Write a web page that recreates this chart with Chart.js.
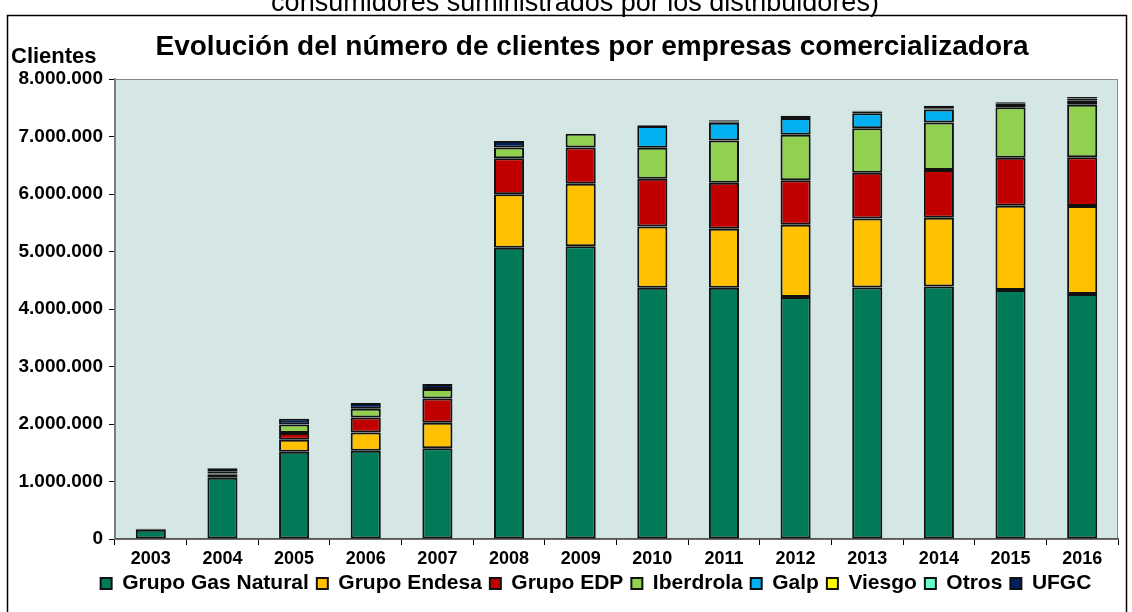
<!DOCTYPE html>
<html>
<head>
<meta charset="utf-8">
<script src="https://cdn.jsdelivr.net/npm/chart.js@4.4.0/dist/chart.umd.min.js"></script>
<style>
html, body { margin: 0; padding: 0; background: #fff; }
#wrap { width: 1132px; height: 612px; }
</style>
</head>
<body>
<div id="wrap"><canvas id="chart" width="1132" height="612"></canvas></div>
<script>
const years = ['2003', '2004', '2005', '2006', '2007', '2008', '2009', '2010', '2011', '2012', '2013', '2014', '2015', '2016'];

// numero de clientes por grupo
const gasNatural = [160000, 1066000, 1518000, 1536000, 1577000, 5066000, 5090000, 4370000, 4370000, 4210000, 4374000, 4391000, 4330000, 4261000];
const endesa     = [null, 60000, 207000, 316000, 444000, 931000, 1087000, 1065000, 1027000, 1257000, 1200000, 1197000, 1465000, 1530000];
const edp        = [null, 15000, 118000, 261000, 422000, 626000, 632000, 829000, 800000, 772000, 795000, 829000, 835000, 847000];
const iberdrola  = [null, 30000, 147000, 151000, 166000, 186000, 240000, 539000, 733000, 793000, 775000, 826000, 878000, 915000];
const galp       = [null, null, null, null, null, null, null, 380000, 310000, 290000, 259000, 227000, null, null];
const viesgo     = [null, null, null, null, null, null, null, null, 20000, 40000, 30000, 20000, 60000, 70000];
const otros      = [null, null, null, null, null, null, null, null, null, null, null, null, null, 40000];
const ufgc       = [20000, 60000, 102000, 101000, 87000, 113000, null, 12000, 24000, null, 16000, 46000, 27000, 24000];

const yMax = 8000000;
const yStep = 1000000;

const FONT = 'Arial, "Liberation Sans", sans-serif';
const topNote = 'consumidores suministrados por los distribuidores)';
const chartTitle = 'Evolución del número de clientes por empresas comercializadora';

function fmt(v) {
    return String(v).replace(/\B(?=(\d{3})+(?!\d))/g, '.');
}

function serie(label, data, color) {
    return {
        label: label,
        data: data,
        backgroundColor: color,
        borderColor: '#111',
        borderWidth: 2,
        borderSkipped: false,
        categoryPercentage: 1,
        barPercentage: 0.42
    };
}

const decor = {
    id: 'decor',
    afterLayout(chart) {
        // la leyenda del original va algo desplazada a la derecha
        chart.legend.left += 33;
        chart.legend.right += 33;
    },
    beforeDraw(chart) {
        const ctx = chart.ctx;
        const a = chart.chartArea;
        ctx.save();
        ctx.fillStyle = '#fff';
        ctx.fillRect(0, 0, chart.width, chart.height);
        // marco exterior
        ctx.strokeStyle = '#000';
        ctx.lineWidth = 1.5;
        ctx.strokeRect(7.5, 15.5, 1119, 640);
        // texto cortado arriba
        ctx.fillStyle = '#000';
        ctx.font = '27px ' + FONT;
        ctx.textAlign = 'center';
        ctx.textBaseline = 'alphabetic';
        ctx.fillText(topNote, 575, 11);
        // titulo
        ctx.font = 'bold 28px ' + FONT;
        ctx.textBaseline = 'middle';
        ctx.fillText(chartTitle, 592, 47);
        // fondo del area de trazado
        ctx.fillStyle = '#D4E7E5';
        ctx.fillRect(a.left, a.top, a.right - a.left, a.bottom - a.top);
        ctx.strokeStyle = '#8a8a8a';
        ctx.lineWidth = 1;
        ctx.strokeRect(a.left + 0.5, a.top + 0.5, a.right - a.left - 1, a.bottom - a.top);
        // etiqueta del eje
        ctx.fillStyle = '#000';
        ctx.font = 'bold 22px ' + FONT;
        ctx.textAlign = 'left';
        ctx.fillText('Clientes', 11, 57);
        ctx.restore();
    }
};

new Chart(document.getElementById('chart').getContext('2d'), {
    type: 'bar',
    data: {
        labels: years,
        datasets: [
            serie('Grupo Gas Natural', gasNatural, '#017A5A'),
            serie('Grupo Endesa', endesa, '#FFC000'),
            serie('Grupo EDP', edp, '#C00000'),
            serie('Iberdrola', iberdrola, '#92D050'),
            serie('Galp', galp, '#00B0F0'),
            serie('Viesgo', viesgo, '#FFFF00'),
            serie('Otros', otros, '#66FFCC'),
            serie('UFGC', ufgc, '#002060')
        ]
    },
    options: {
        responsive: false,
        animation: false,
        layout: { padding: { left: 8, right: 14, top: 79, bottom: 8 } },
        plugins: {
            title: { display: false },
            legend: {
                position: 'bottom',
                labels: {
                    color: '#000',
                    boxWidth: 11,
                    boxHeight: 11,
                    padding: 8,
                    font: { family: FONT, size: 21, weight: 'bold' }
                }
            },
            tooltip: { enabled: false }
        },
        scales: {
            x: {
                stacked: true,
                grid: { drawOnChartArea: false, tickLength: 6, color: '#000', offset: true },
                border: { color: '#555', width: 1.5 },
                ticks: { color: '#000', padding: 3, font: { family: FONT, size: 18, weight: 'bold' } },
                afterFit(s) { s.height = 26; }
            },
            y: {
                stacked: true,
                min: 0,
                max: yMax,
                grid: { drawOnChartArea: false, tickLength: 6, color: '#000' },
                border: { color: '#777', width: 1.5 },
                ticks: {
                    stepSize: yStep,
                    color: '#000',
                    padding: 6,
                    font: { family: FONT, size: 19, weight: 'bold' },
                    callback: (v) => fmt(v)
                },
                afterFit(s) { s.width = 107; }
            }
        }
    },
    plugins: [decor]
});
</script>
</body>
</html>
